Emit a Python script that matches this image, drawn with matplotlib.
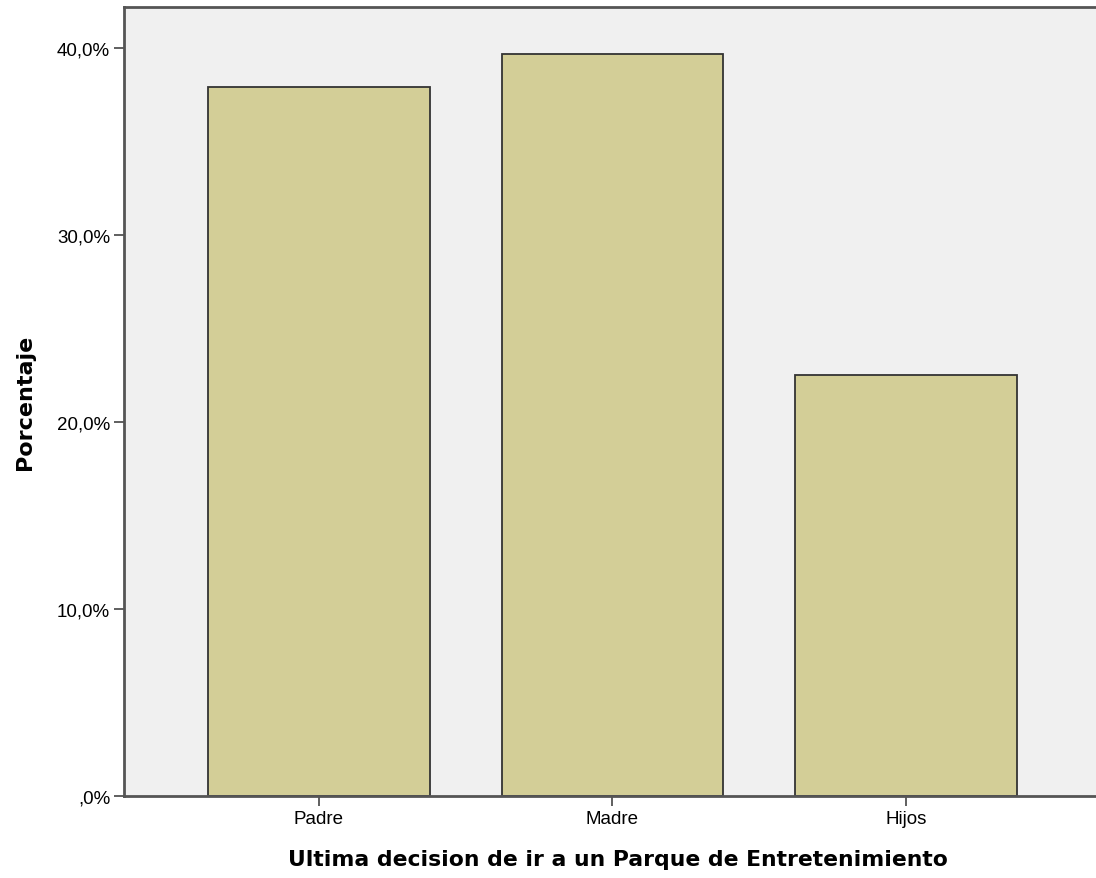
import numpy as np
import matplotlib
matplotlib.use("Agg")
import matplotlib.pyplot as plt

categorias = ["Padre", "Madre", "Hijos"]
porcentajes = [37.9, 39.7, 22.5]
yticks = [0, 10, 20, 30, 40]
ytick_labels = [",0%", "10,0%", "20,0%", "30,0%", "40,0%"]

plt.rcParams['font.family'] = ['Liberation Sans', 'DejaVu Sans']

fig = plt.figure(figsize=(10.96, 8.79), dpi=100)
ax = fig.add_axes([124/1096, 82/879, 974/1096, 789/879])
ax.set_facecolor('#F0F0F0')

x = np.arange(len(categorias))
ax.bar(x, porcentajes, width=0.756, color='#D3CE97', edgecolor='#333333', linewidth=1.3, zorder=2)

ax.set_xlim(-0.664, 2.654)
ax.set_ylim(0, 42.19)
ax.set_xticks(x)
ax.set_xticklabels(categorias, fontsize=13.5)
ax.set_yticks(yticks)
ax.set_yticklabels(ytick_labels, fontsize=13.5)
ax.tick_params(axis='both', length=7, width=1.2, color='#444444', pad=3)

for s in ax.spines.values():
    s.set_color('#555555')
    s.set_linewidth(2)

ax.set_xlabel("Ultima decision de ir a un Parque de Entretenimiento",
              fontsize=15.75, fontweight='bold', family='DejaVu Sans')
ax.set_ylabel("Porcentaje", fontsize=16, fontweight='bold', family='DejaVu Sans')
ax.xaxis.set_label_coords(493.5/974, -53/789)
ax.yaxis.set_label_coords(-89/974, 0.5)

fig.savefig("out.png", dpi=100)
